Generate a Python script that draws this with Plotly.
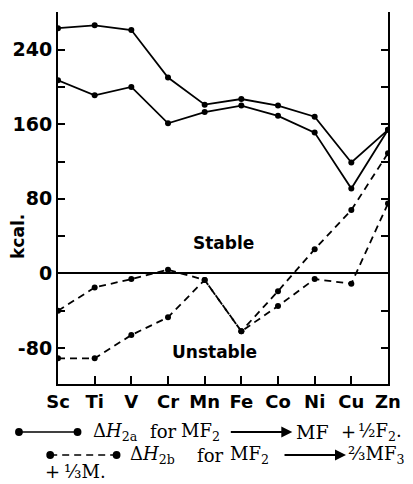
import plotly.graph_objects as go

cats = ["Sc", "Ti", "V", "Cr", "Mn", "Fe", "Co", "Ni", "Cu", "Zn"]
solid_upper = [263, 266, 261, 210, 181, 187, 180, 168, 119, 154]
solid_lower = [207, 191, 200, 161, 173, 180, 169, 151, 91, 154]
dashed_upper = [-40, -15, -6, 4, -7, -62, -19, 26, 68, 129]
dashed_lower = [-91, -91, -66, -47, -7, -62, -35, -6, -11, 75]
ytick_vals = [-80, 0, 80, 160, 240]
ytick_text = ["-80", "0", "80", "160", "240"]

W, H = 413, 484
L, R, T, B = 58, 17, 12, 100
PW, PH = W - L - R, H - T - B

def px(x):  # page pixel x -> paper
    return (x - L) / PW

def py(y):  # page pixel y -> paper
    return (H - B - y) / PH

fig = go.Figure()
line_w = 1.8
for ys in (solid_upper, solid_lower):
    fig.add_trace(go.Scatter(x=list(range(len(cats))), y=ys, mode="lines+markers",
                             line=dict(color="black", width=line_w),
                             marker=dict(color="black", size=6), showlegend=False))
for ys in (dashed_upper, dashed_lower):
    fig.add_trace(go.Scatter(x=list(range(len(cats))), y=ys, mode="lines+markers",
                             line=dict(color="black", width=line_w, dash="7px,5px"),
                             marker=dict(color="black", size=6), showlegend=False))

xfont = dict(family="DejaVu Sans", size=18, color="black", weight="bold")
yfont = dict(family="DejaVu Sans", size=19, color="black", weight="bold")
fig.update_xaxes(range=[0, len(cats) - 1], tickmode="array",
                 tickvals=list(range(len(cats))), ticktext=cats,
                 showline=True, linecolor="black", linewidth=2, mirror=False,
                 ticks="inside", ticklen=8, tickwidth=2, tickcolor="black",
                 showgrid=False, zeroline=False, tickfont=xfont,
                 ticklabelstandoff=0)
fig.update_yaxes(range=[-118.5, 280.3], tickmode="array", tickvals=ytick_vals,
                 ticktext=ytick_text, showline=True, linecolor="black", linewidth=2,
                 mirror="ticks", ticks="inside", ticklen=7, tickwidth=2,
                 tickcolor="black", showgrid=False, zeroline=True,
                 zerolinecolor="black", zerolinewidth=1.5, tickfont=yfont,
                 minor=dict(tickmode="linear", tick0=0, dtick=40, ticks="inside",
                            ticklen=7, tickwidth=2, tickcolor="black", showgrid=False))

ann = []
ann.append(dict(text="kcal.", x=px(17), y=py(236), xref="paper", yref="paper",
                xanchor="center", yanchor="middle", showarrow=False, textangle=-90,
                font=dict(family="DejaVu Sans", size=17, color="black", weight="bold")))
lab_font = dict(family="DejaVu Sans", size=17, color="black", weight="bold")
ann.append(dict(text="Stable", x=4.5, y=33, xref="x", yref="y", showarrow=False,
                font=lab_font))
ann.append(dict(text="Unstable", x=4.27, y=-84, xref="x", yref="y", showarrow=False,
                font=lab_font))

serif = dict(family="DejaVu Serif", size=18, color="black")
def txt(s, x, y, size=18):
    ann.append(dict(text=s, x=px(x), y=py(y), xref="paper", yref="paper",
                    xanchor="left", yanchor="middle", showarrow=False,
                    font=dict(family="DejaVu Serif", size=size, color="black"),
                    borderpad=0))
def arrow(x0, x1, y):
    ann.append(dict(text="", x=px(x1), y=py(y), ax=-(x1 - x0), ay=0, xref="paper",
                    yref="paper", axref="pixel", ayref="pixel", showarrow=True,
                    arrowhead=2, arrowsize=1.1, arrowwidth=2, arrowcolor="black"))

shapes = []
def sample(x0, x1, y, dash):
    shapes.append(dict(type="line", xref="paper", yref="paper", x0=px(x0), x1=px(x1),
                       y0=py(y), y1=py(y), line=dict(color="black", width=1.3, dash=dash)))
    for xx in (x0, x1):
        shapes.append(dict(type="circle", xref="paper", yref="paper",
                           x0=px(xx - 4), x1=px(xx + 4), y0=py(y + 4), y1=py(y - 4),
                           fillcolor="black", line=dict(color="black", width=0)))

y1, y2, y3 = 432, 455, 471
sample(18, 78, y1, "solid")
txt("Δ<i>H</i><sub>2a</sub>", 93, y1)
txt("for", 151, y1)
txt("MF<sub>2</sub>", 183, y1)
arrow(235, 298, y1)
txt("MF", 301, y1, 19)
txt("+", 347, y1)
txt("½F<sub>2</sub>.", 364, y1)

sample(50, 118, y2, "7px,5px")
txt("Δ<i>H</i><sub>2b</sub>", 131, y2)
txt("for", 199, y2)
txt("MF<sub>2</sub>", 233, y2)
arrow(290, 353, y2)
txt("⅔MF<sub>3</sub>", 354, y2)

txt("+", 44, y3)
txt("⅓M.", 63, y3)

fig.update_layout(width=W, height=H, autosize=False,
                  margin=dict(l=L, r=R, t=T, b=B),
                  paper_bgcolor="white", plot_bgcolor="white",
                  annotations=ann, shapes=shapes, showlegend=False)

fig.write_html("out.html", config={"displayModeBar": False},
               post_script="document.body.style.margin='0px';")
